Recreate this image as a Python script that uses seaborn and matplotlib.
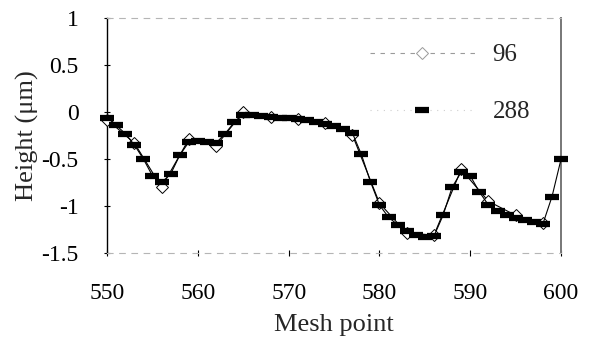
import matplotlib
matplotlib.use("Agg")
import matplotlib.pyplot as plt
from matplotlib.lines import Line2D
import seaborn as sns
import pandas as pd

# Coarse mesh (96 points): every third mesh point
mesh_96 = [550, 553, 556, 559, 562, 565, 568, 571, 574, 577, 580, 583,
           586, 589, 592, 595, 598]
height_96 = [-0.08, -0.33, -0.80, -0.29, -0.36, 0.00, -0.05, -0.07, -0.12,
             -0.24, -0.97, -1.29, -1.31, -0.61, -0.95, -1.10, -1.18]

# Fine mesh (288 points): every mesh point
mesh_288 = list(range(550, 601))
height_288 = [-0.06, -0.14, -0.23, -0.35, -0.50, -0.68, -0.75, -0.66, -0.46,
              -0.32, -0.31, -0.32, -0.33, -0.23, -0.11, -0.03, -0.03, -0.04,
              -0.05, -0.06, -0.06, -0.07, -0.09, -0.11, -0.13, -0.15, -0.18,
              -0.22, -0.45, -0.74, -0.99, -1.12, -1.20, -1.27, -1.31, -1.33,
              -1.32, -1.10, -0.80, -0.64, -0.68, -0.85, -0.99, -1.05, -1.10,
              -1.13, -1.15, -1.17, -1.19, -0.90, -0.50]

series_labels = ["96", "288"]
x_ticks = [550, 560, 570, 580, 590, 600]
y_ticks = [1, 0.5, 0, -0.5, -1, -1.5]
y_tick_labels = ["1", "0.5", "0", "-0.5", "-1", "-1.5"]

sns.set_style("white")
plt.rcParams["font.family"] = ["Liberation Serif", "DejaVu Serif"]
plt.rcParams["axes.unicode_minus"] = False

fig = plt.figure(figsize=(5.95, 3.47), dpi=100)
ax = fig.add_axes([0.18, 0.271, 0.763, 0.677])

df96 = pd.DataFrame({"mesh": mesh_96, "height": height_96})
df288 = pd.DataFrame({"mesh": mesh_288, "height": height_288})

sns.lineplot(data=df96, x="mesh", y="height", ax=ax, color="black", lw=0.8,
             marker="D", markersize=6.5, markerfacecolor="white",
             markeredgecolor="black", markeredgewidth=0.7, clip_on=False,
             zorder=3)
sns.lineplot(data=df288, x="mesh", y="height", ax=ax, color="black", lw=0.8,
             marker="_", markersize=10, markeredgewidth=4.5,
             markeredgecolor="black", clip_on=False, zorder=4)

ax.set_xlim(550, 600)
ax.set_ylim(-1.5, 1)
ax.set_xticks(x_ticks)
ax.set_xticklabels([str(t) for t in x_ticks])
ax.set_yticks(y_ticks)
ax.set_yticklabels(y_tick_labels)
ax.tick_params(axis="both", labelsize=17, colors="black")
ax.tick_params(axis="y", direction="inout", length=5, width=0.8, pad=18,
               left=True)
ax.tick_params(axis="x", direction="inout", length=5, width=0.8, pad=19,
               bottom=True)

ax.set_xlabel("Mesh point", fontsize=19, labelpad=7)
ax.set_ylabel("Height (\u03bcm)", fontsize=19, labelpad=2)

for side in ("top", "bottom"):
    ax.spines[side].set_color("#b5b5b5")
    ax.spines[side].set_linewidth(0.8)
    ax.spines[side].set_linestyle((0, (5, 6)))
ax.spines["left"].set_color("black")
ax.spines["left"].set_linewidth(1.0)
ax.spines["right"].set_color("#777777")
ax.spines["right"].set_linewidth(1.4)

handles = [
    Line2D([], [], color="#9a9a9a", lw=0.8, ls=(0, (4, 5)), marker="D",
           markersize=6.5, markerfacecolor="white", markeredgecolor="#9a9a9a",
           markeredgewidth=0.7),
    Line2D([], [], color="#cfcfcf", lw=0.8, ls=(0, (1, 5)), marker="_",
           markersize=10, markeredgewidth=4.5, markeredgecolor="black"),
]
ax.legend(handles, series_labels, loc="upper left",
          bbox_to_anchor=(0.579, 0.89), frameon=False, fontsize=18,
          handlelength=4.2, handletextpad=0.7, labelspacing=1.38,
          borderpad=0, borderaxespad=0)

fig.savefig("out.png", dpi=100)
